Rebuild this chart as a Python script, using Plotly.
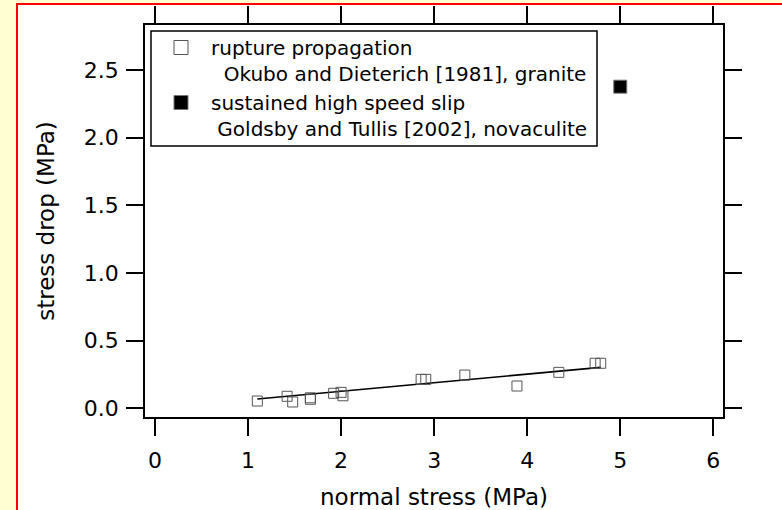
import plotly.graph_objects as go

# Data
rupture_x = [1.10, 1.42, 1.48, 1.67, 1.67, 1.92, 2.00, 2.02, 2.86, 2.91, 3.33, 3.89, 4.34, 4.73, 4.79]
rupture_y = [0.054, 0.089, 0.047, 0.078, 0.067, 0.111, 0.118, 0.093, 0.214, 0.214, 0.246, 0.165, 0.266, 0.333, 0.333]
fit_x = [1.10, 4.79]
fit_y = [0.069, 0.303]
slip_x = [5.00]
slip_y = [2.377]

x_ticks = [0, 1, 2, 3, 4, 5, 6]
y_ticks = [0.0, 0.5, 1.0, 1.5, 2.0, 2.5]
y_ticklabels = ["0.0", "0.5", "1.0", "1.5", "2.0", "2.5"]

legend_labels = [
    "rupture propagation<br>\u00a0\u00a0Okubo and Dieterich [1981], granite",
    "sustained high speed slip<br>\u00a0Goldsby and Tullis [2002], novaculite",
]

FONT = "DejaVu Sans"
W, H = 782, 510
L, R, T, B = 145, 723, 25, 417

fig = go.Figure()

fig.add_trace(go.Scatter(x=fit_x, y=fit_y, mode="lines",
                         line=dict(color="black", width=1.6), showlegend=False,
                         hoverinfo="skip"))
fig.add_trace(go.Scatter(x=rupture_x, y=rupture_y, mode="markers",
                         marker=dict(symbol="square-open", size=10, color="#555555",
                                     line=dict(width=1, color="#555555")),
                         showlegend=False))
fig.add_trace(go.Scatter(x=slip_x, y=slip_y, mode="markers",
                         marker=dict(symbol="square", size=13, color="black",
                                     line=dict(width=1, color="#777777")),
                         showlegend=False))
# legend-only entries
fig.add_trace(go.Scatter(x=[None], y=[None], mode="markers", name=legend_labels[0],
                         marker=dict(symbol="square-open", size=14, color="#555555",
                                     line=dict(width=1, color="#555555"))))
fig.add_trace(go.Scatter(x=[None], y=[None], mode="markers", name=legend_labels[1],
                         marker=dict(symbol="square", size=14, color="black",
                                     line=dict(width=1, color="#777777"))))

pw, ph = R - L, B - T
def px(xpix):
    return (xpix - L) / pw
def py(ypix):
    return (B - ypix) / ph

fig.update_layout(
    width=W, height=H,
    margin=dict(l=L, r=W - R, t=T, b=H - B, autoexpand=False),
    paper_bgcolor="#FFFFD2",
    plot_bgcolor="white",
    font=dict(family=FONT, size=20, color="black"),
    shapes=[
        dict(type="rect", xref="paper", yref="paper",
             x0=px(17), x1=px(800), y0=py(530), y1=py(4),
             line=dict(color="red", width=2), fillcolor="white", layer="below"),
        dict(type="rect", xref="paper", yref="paper",
             x0=px(151), x1=px(597), y0=py(146), y1=py(31),
             line=dict(color="black", width=1.5), fillcolor="white", layer="below"),
    ],
    showlegend=True,
    legend=dict(x=px(151), y=py(28), xanchor="left", yanchor="top",
                bgcolor="rgba(0,0,0,0)", borderwidth=0,
                font=dict(family=FONT, size=20), valign="top",
                itemwidth=50, tracegroupgap=0, itemclick=False),
)

fig.update_xaxes(range=[-0.107, 6.104], tickvals=x_ticks,
                 showline=True, linecolor="black", linewidth=1.5, mirror="ticks",
                 ticks="outside", ticklen=17, tickwidth=1.5, tickcolor="black",
                 showgrid=False, zeroline=False, ticklabelstandoff=6,
                 tickfont=dict(family=FONT, size=22),
                 title=dict(text="normal stress (MPa)", font=dict(family=FONT, size=23), standoff=17))
fig.update_yaxes(range=[-0.064, 2.833], tickvals=y_ticks, ticktext=y_ticklabels,
                 showline=True, linecolor="black", linewidth=1.5, mirror="ticks",
                 ticks="outside", ticklen=17, tickwidth=1.5, tickcolor="black",
                 showgrid=False, zeroline=False, ticklabelstandoff=3,
                 tickfont=dict(family=FONT, size=22),
                 title=dict(text="stress drop (MPa)", font=dict(family=FONT, size=23), standoff=23))

fig.write_html("out.html")
